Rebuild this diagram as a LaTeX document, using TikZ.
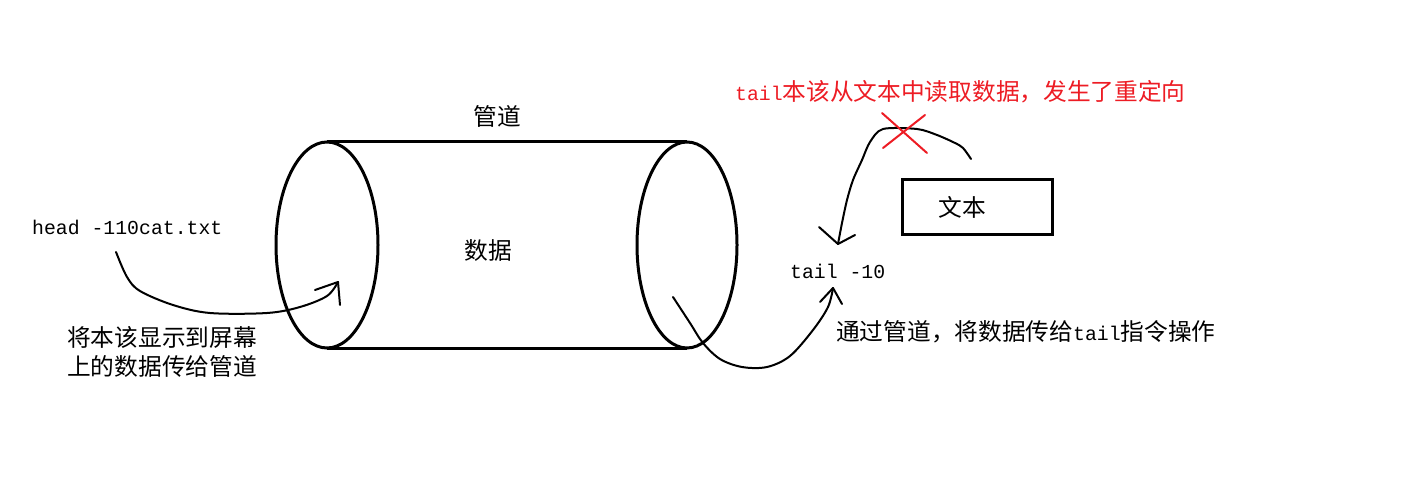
\documentclass[tikz,border=0pt]{standalone}
\usepackage{fontspec}
\setmainfont{Liberation Mono}
\newfontfamily\cjk{Noto Sans CJK SC}
\newfontfamily\lat{Liberation Mono}
\definecolor{paintred}{RGB}{237,28,36}
\begin{document}
\begin{tikzpicture}[x=1pt,y=-1pt,
  cyl/.style={line width=3pt},
  hand/.style={line width=2pt,line join=round,line cap=round},
  lbl/.style={inner sep=0pt,anchor=west},
  cjktxt/.style={font=\cjk\fontsize{23.7}{28}\selectfont},
  lattxt/.style={font=\lat\fontsize{19.8}{24}\selectfont},
  boxst/.style={draw,line width=3pt,minimum width=150pt,minimum height=55pt,inner sep=0pt}]
\useasboundingbox (0,0) rectangle (1426,502);
% cylinder
\coordinate (lc) at (327,245);
\coordinate (rc) at (687,245);
\draw[cyl] (lc) ellipse [x radius=51, y radius=103];
\draw[cyl] (rc) ellipse [x radius=50, y radius=103];
\draw[cyl] (327,142) coordinate (lt) -- (687,142) coordinate (rt);
\draw[cyl] (327,348) coordinate (lb) -- (687,348) coordinate (rb);
% labels on cylinder
\node[cjktxt,inner sep=0pt] (pipe) at (497,116) {管道};
\node[cjktxt,inner sep=0pt] (data) at (488,251) {数据};
% left texts
\node[lbl,lattxt] (head) at (32,227) {head -110cat.txt};
\node[lbl,cjktxt] (desc1) at (67,337) {将本该显示到屏幕};
\node[lbl,cjktxt] (desc2) at (67,366) {上的数据传给管道};
% right texts
\node[lbl,lattxt] (tail) at (790,271) {tail -10};
\node[lbl] (desc3) at (836,332) {{\cjk\fontsize{23.7}{28}\selectfont 通过管道，将数据传给}{\lat\fontsize{19.8}{24}\selectfont tail}{\cjk\fontsize{23.7}{28}\selectfont 指令操作}};
\node[lbl,text=paintred] (redtext) at (735,92) {{\lat\fontsize{19.8}{24}\selectfont tail}{\cjk\fontsize{23.7}{28}\selectfont 本该从文本中读取数据，发生了重定向}};
% text box
\node[boxst,cjktxt] (file) at (977,207) {\hspace*{-30pt}文本};
% left arrow: head -> pipe
\coordinate (hs) at (116,252);
\coordinate (ht) at (338,282);
\draw[hand] plot[smooth,tension=0.55] coordinates {(hs) (127,277) (140,291) (173,305) (210,313) (267,313) (300,307) (327,296) (ht)};
\draw[hand] (315,290) -- (ht) -- (340,305);
% lower right arrow: pipe -> tail
\coordinate (ps) at (673,297);
\coordinate (pt) at (833,288);
\draw[hand] plot[smooth,tension=0.55] coordinates {(ps) (690,323) (703,343) (720,359) (742,367) (767,367) (790,356) (813,330) (828,307) (pt)};
\draw[hand] (820,302) -- (pt) -- (842,304);
% upper arrow: file -> tail
\coordinate (fs) at (971,159);
\coordinate (ft) at (838,244);
\draw[hand] plot[smooth,tension=0.5] coordinates {(fs) (963,148) (955,143) (937,135) (917,129) (883,129) (870,142) (862,160) (853,180) (847,200) (842,223) (ft)};
\draw[hand] (819,227) -- (ft) -- (855,235);
% red cross
\coordinate (xa) at (882,113);
\coordinate (xb) at (927,153);
\coordinate (xc) at (925,115);
\coordinate (xd) at (883,148);
\draw[hand,paintred] (xa) -- (xb);
\draw[hand,paintred] (xc) -- (xd);
\end{tikzpicture}
\end{document}
